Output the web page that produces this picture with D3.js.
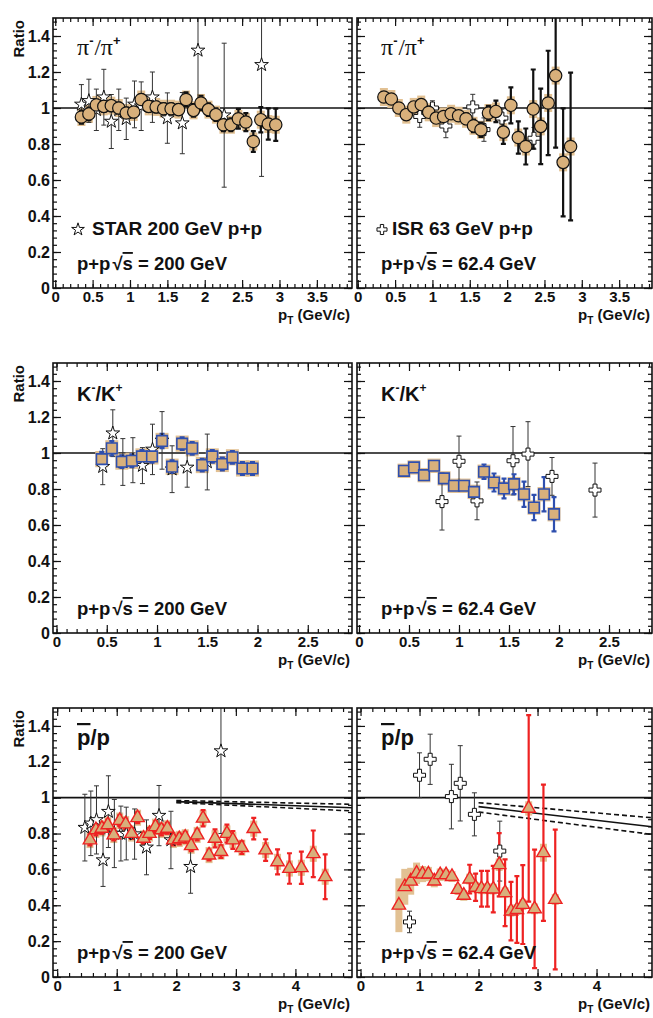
<!DOCTYPE html>
<html>
<head>
<meta charset="utf-8">
<script src="https://cdnjs.cloudflare.com/ajax/libs/d3/7.8.5/d3.min.js"></script>
<style>
  body { margin: 0; background: #fff; }
  svg { display: block; }
  text { font-family: "Liberation Sans", Arial, Helvetica, sans-serif; font-weight: bold; fill: #111; }
</style>
</head>
<body>
<svg id="chart" width="653" height="1018"></svg>
<script>
/* pi-/pi+ , p+p 200 GeV */
var pi200X = [0.35, 0.45, 0.55, 0.65, 0.75, 0.85, 0.95, 1.05, 1.15, 1.25, 1.35, 1.45, 1.55, 1.65, 1.75, 1.85, 1.95, 2.05, 2.15, 2.25, 2.35, 2.45, 2.55, 2.65, 2.75, 2.85, 2.95];
var pi200Y = [0.95, 0.967, 1.017, 1.009, 1.013, 1.0, 0.972, 0.978, 1.047, 1.009, 1.006, 0.996, 0.996, 0.991, 1.047, 0.987, 1.028, 0.991, 0.963, 0.907, 0.907, 0.94, 0.922, 0.814, 0.935, 0.911, 0.907];
var pi200Err = [0.035, 0.035, 0.03, 0.03, 0.03, 0.03, 0.03, 0.03, 0.03, 0.03, 0.03, 0.03, 0.03, 0.03, 0.04, 0.035, 0.04, 0.035, 0.035, 0.035, 0.035, 0.055, 0.05, 0.058, 0.07, 0.087, 0.09];
var pi200Sys = [0.05, 0.05, 0.05, 0.05, 0.05, 0.05, 0.05, 0.05, 0.05, 0.05, 0.05, 0.05, 0.05, 0.05, 0.05, 0.05, 0.05, 0.05, 0.05, 0.05, 0.05, 0.05, 0.05, 0.05, 0.05, 0.05, 0.05];

var starPiX = [0.35, 0.45, 0.55, 0.65, 0.75, 0.85, 0.95, 1.06, 1.15, 1.3, 1.5, 1.7, 1.91, 2.26, 2.76];
var starPiY = [1.02, 1.04, 0.99, 1.06, 0.925, 0.99, 0.94, 1.02, 1.01, 1.06, 0.944, 0.916, 1.32, 0.96, 1.24];
var starPiErr = [0.11, 0.12, 0.115, 0.155, 0.15, 0.115, 0.115, 0.13, 0.135, 0.14, 0.14, 0.17, 0.32, 0.4, 0.62];

/* pi-/pi+ , p+p 62.4 GeV */
var pi62X = [0.35, 0.45, 0.55, 0.65, 0.75, 0.85, 0.95, 1.05, 1.15, 1.25, 1.35, 1.45, 1.55, 1.65, 1.75, 1.85, 1.95, 2.05, 2.15, 2.25, 2.35, 2.45, 2.55, 2.65, 2.75, 2.85];
var pi62Y = [1.061, 1.05, 1.0, 0.963, 1.006, 1.019, 0.976, 0.944, 0.953, 0.968, 0.957, 0.94, 0.901, 0.879, 0.972, 0.981, 0.866, 1.015, 0.836, 0.786, 0.994, 0.898, 1.028, 1.18, 0.698, 0.786];
var pi62Err = [0.02, 0.02, 0.02, 0.02, 0.02, 0.02, 0.02, 0.02, 0.02, 0.025, 0.025, 0.03, 0.035, 0.04, 0.04, 0.06, 0.065, 0.1, 0.09, 0.1, 0.22, 0.21, 0.29, 0.4, 0.3, 0.41];
var pi62Sys = [0.05, 0.05, 0.05, 0.05, 0.05, 0.05, 0.05, 0.05, 0.05, 0.05, 0.05, 0.05, 0.05, 0.05, 0.05, 0.05, 0.05, 0.05, 0.05, 0.05, 0.05, 0.05, 0.05, 0.05, 0.05, 0.05];

var isrX = [0.83, 1.0, 1.18, 1.54, 1.69, 1.93, 2.36];
var isrPiY = [0.953, 1.0, 0.90, 1.006, 0.88, 0.944, 0.832];
var isrPiErr = [0.06, 0.04, 0.065, 0.07, 0.065, 0.05, 0.06];

/* K-/K+ */
var k200X = [0.45, 0.55, 0.65, 0.75, 0.85, 0.95, 1.05, 1.15, 1.25, 1.35, 1.45, 1.55, 1.65, 1.75, 1.85, 1.95];
var k200Y = [0.966, 1.026, 0.952, 0.957, 0.981, 0.981, 1.067, 0.924, 1.052, 1.026, 0.933, 0.981, 0.939, 0.976, 0.914, 0.914];
var k200Err = [0.04, 0.04, 0.035, 0.035, 0.035, 0.035, 0.04, 0.035, 0.035, 0.035, 0.035, 0.035, 0.035, 0.035, 0.035, 0.035];
var k200Sys = [0.045, 0.045, 0.045, 0.045, 0.045, 0.045, 0.045, 0.045, 0.045, 0.045, 0.045, 0.045, 0.045, 0.045, 0.045, 0.045];

var starKX = [0.46, 0.56, 0.66, 0.76, 0.855, 0.955, 1.05, 1.15, 1.3, 1.5];
var starKY = [0.924, 1.11, 0.95, 0.96, 0.93, 1.02, 1.07, 0.91, 0.92, 0.95];
var starKErr = [0.1, 0.13, 0.13, 0.125, 0.1, 0.14, 0.16, 0.13, 0.11, 0.155];

var k62X = [0.45, 0.55, 0.65, 0.75, 0.85, 0.95, 1.05, 1.15, 1.25, 1.35, 1.45, 1.55, 1.65, 1.75, 1.85, 1.95];
var k62Y = [0.901, 0.92, 0.877, 0.929, 0.859, 0.818, 0.818, 0.784, 0.896, 0.836, 0.803, 0.827, 0.771, 0.697, 0.771, 0.66];
var k62Err = [0.02, 0.02, 0.02, 0.02, 0.02, 0.02, 0.02, 0.025, 0.04, 0.05, 0.055, 0.055, 0.07, 0.07, 0.095, 0.095];
var k62Sys = [0.04, 0.04, 0.04, 0.04, 0.04, 0.04, 0.04, 0.04, 0.04, 0.04, 0.04, 0.04, 0.04, 0.04, 0.04, 0.04];

var isrKY = [0.73, 0.954, 0.734, 0.957, 0.994, 0.87, 0.794];
var isrKErr = [0.158, 0.14, 0.105, 0.19, 0.18, 0.105, 0.15];

/* pbar/p */
var pbar200X = [0.55, 0.65, 0.75, 0.85, 0.95, 1.05, 1.15, 1.25, 1.35, 1.45, 1.55, 1.65, 1.75, 1.85, 1.95, 2.05, 2.15, 2.25, 2.35, 2.45, 2.55, 2.65, 2.75, 2.85, 2.95, 3.1, 3.3, 3.5, 3.7, 3.9, 4.1, 4.3, 4.5];
var pbar200Y = [0.764, 0.82, 0.829, 0.848, 0.792, 0.872, 0.853, 0.80, 0.888, 0.773, 0.80, 0.838, 0.82, 0.829, 0.764, 0.77, 0.779, 0.732, 0.792, 0.885, 0.68, 0.773, 0.699, 0.80, 0.764, 0.721, 0.827, 0.708, 0.642, 0.605, 0.609, 0.687, 0.559];
var pbar200Err = [0.03, 0.03, 0.03, 0.03, 0.03, 0.03, 0.03, 0.03, 0.03, 0.03, 0.03, 0.03, 0.03, 0.03, 0.03, 0.03, 0.03, 0.03, 0.03, 0.045, 0.03, 0.05, 0.035, 0.05, 0.05, 0.035, 0.06, 0.06, 0.07, 0.085, 0.09, 0.13, 0.125];
var pbar200Sys = [0.045, 0.045, 0.045, 0.045, 0.045, 0.045, 0.045, 0.045, 0.045, 0.045, 0.045, 0.045, 0.045, 0.045, 0.045, 0.045, 0.045, 0.045, 0.045, 0.045, 0.045, 0.045, 0.045, 0.045, 0.045, 0.045, 0.045, 0.045, 0.045, 0.045, 0.045, 0.045, 0.045];

var starPbarX = [0.465, 0.565, 0.66, 0.77, 0.86, 0.96, 1.07, 1.16, 1.3, 1.5, 1.71, 1.91, 2.24, 2.75];
var starPbarY = [0.833, 0.857, 0.876, 0.652, 0.922, 0.80, 0.80, 0.80, 0.797, 0.723, 0.90, 0.764, 0.615, 1.26];
var starPbarErr = [0.186, 0.18, 0.19, 0.147, 0.2, 0.19, 0.153, 0.147, 0.14, 0.153, 0.168, 0.16, 0.148, 0.46];

var pbar62X = [0.65, 0.75, 0.85, 0.95, 1.05, 1.15, 1.25, 1.35, 1.45, 1.55, 1.65, 1.75, 1.85, 1.95, 2.05, 2.15, 2.25, 2.35, 2.45, 2.55, 2.65, 2.75, 2.85, 2.95, 3.1, 3.3];
var pbar62Y = [0.40, 0.503, 0.534, 0.578, 0.574, 0.574, 0.535, 0.57, 0.57, 0.56, 0.488, 0.455, 0.546, 0.5, 0.492, 0.492, 0.49, 0.626, 0.47, 0.367, 0.376, 0.404, 0.94, 0.38, 0.693, 0.432];
var pbar62Err = [0.01, 0.01, 0.01, 0.01, 0.01, 0.01, 0.01, 0.01, 0.015, 0.015, 0.02, 0.02, 0.08, 0.076, 0.1, 0.1, 0.13, 0.176, 0.186, 0.163, 0.186, 0.22, 0.52, 0.33, 0.38, 0.39];
var pbar62Sys = [0.15, 0.1, 0.075, 0.06, 0.045, 0.04, 0.035, 0.035, 0.03, 0.03, 0.03, 0.03, 0.03, 0.03, 0.03, 0.03, 0.03, 0.035, 0.03, 0.03, 0.03, 0.03, 0.04, 0.03, 0.05, 0.03];

var isrPbarY = [0.307, 1.125, 1.214, 1.006, 1.08, 0.907, 0.702];
var isrPbarErr = [0.06, 0.125, 0.14, 0.18, 0.21, 0.12, 0.167];

/* fit bands drawn in the pbar/p panels */
var fit200X = [2.0, 4.95];
var fit200Y = [0.978, 0.944];
var fit200Hi = [0.984, 0.963];
var fit200Lo = [0.972, 0.926];
var fit62X = [2.0, 4.94];
var fit62Y = [0.95, 0.838];
var fit62Hi = [0.972, 0.888];
var fit62Lo = [0.92, 0.795];

/* tick labels */
var yTicks = [0, 0.2, 0.4, 0.6, 0.8, 1, 1.2, 1.4];
var xTicksPi = [0, 0.5, 1, 1.5, 2, 2.5, 3, 3.5];
var xTicksK = [0, 0.5, 1, 1.5, 2, 2.5];
var xTicksPbar = [0, 1, 2, 3, 4];

var TAN = '#d8b07b', SYS = '#e2c193', BLUE = '#2f4fae', RED = '#ee2222', INK = '#111';

var cols = [[53, 352], [357, 652]];
var rows = [[18, 288], [363, 633], [708, 977]];

var panels = [
    { row: 0, col: 0, xd: [-0.03, 3.97], xt: xTicksPi, xm: 0.1, sp: 'pi', en: '200', legend: 'star', hw: 4,
      main: { x: pi200X, y: pi200Y, e: pi200Err, s: pi200Sys, m: 'circle' },
      ref: { x: starPiX, y: starPiY, e: starPiErr, m: 'star' } },
    { row: 0, col: 1, xd: [-0.01, 3.94], xt: xTicksPi, xm: 0.1, sp: 'pi', en: '62.4', legend: 'cross', hw: 4,
      main: { x: pi62X, y: pi62Y, e: pi62Err, s: pi62Sys, m: 'circle' },
      ref: { x: isrX, y: isrPiY, e: isrPiErr, m: 'cross' } },
    { row: 1, col: 0, xd: [-0.035, 2.94], xt: xTicksK, xm: 0.1, sp: 'K', en: '200', hw: 6.5,
      main: { x: k200X, y: k200Y, e: k200Err, s: k200Sys, m: 'square' },
      ref: { x: starKX, y: starKY, e: starKErr, m: 'star' } },
    { row: 1, col: 1, xd: [-0.02, 2.93], xt: xTicksK, xm: 0.1, sp: 'K', en: '62.4', hw: 6.5,
      main: { x: k62X, y: k62Y, e: k62Err, s: k62Sys, m: 'square' },
      ref: { x: isrX, y: isrKY, e: isrKErr, m: 'cross' } },
    { row: 2, col: 0, xd: [-0.07, 4.95], xt: xTicksPbar, xm: 0.2, sp: 'pbar', en: '200', hw: 3.5,
      main: { x: pbar200X, y: pbar200Y, e: pbar200Err, s: pbar200Sys, m: 'triangle' },
      ref: { x: starPbarX, y: starPbarY, e: starPbarErr, m: 'star' },
      fit: { x: fit200X, y: fit200Y, hi: fit200Hi, lo: fit200Lo } },
    { row: 2, col: 1, xd: [-0.06, 4.94], xt: xTicksPbar, xm: 0.2, sp: 'pbar', en: '62.4', hw: 3.5,
      main: { x: pbar62X, y: pbar62Y, e: pbar62Err, s: pbar62Sys, m: 'triangle' },
      ref: { x: isrX, y: isrPbarY, e: isrPbarErr, m: 'cross' },
      fit: { x: fit62X, y: fit62Y, hi: fit62Hi, lo: fit62Lo } }
];

var markerStyle = {
    circle: { fill: TAN, stroke: INK, sw: 1.2, ec: INK, ew: 2.2, sym: d3.symbol(d3.symbolCircle, 120) },
    square: { fill: TAN, stroke: BLUE, sw: 1.6, ec: BLUE, ew: 2.2, sym: d3.symbol(d3.symbolSquare, 112) },
    triangle: { fill: TAN, stroke: RED, sw: 1.4, ec: RED, ew: 2.2, sym: d3.symbol(d3.symbolTriangle, 78) },
    star: { fill: '#fff', stroke: INK, sw: 1, ec: '#333', ew: 1, sym: d3.symbol(d3.symbolStar, 58) },
    cross: { fill: '#fff', stroke: INK, sw: 1, ec: '#333', ew: 1, sym: d3.symbol(d3.symbolCross, 80) }
};

var svg = d3.select('#chart');
var fmt = function (d) { return String(+d.toFixed(2)); };

function errorBars(g, x, y, ser, st) {
    var pts = ser.x.map(function (d, i) { return { x: d, y: ser.y[i], e: ser.e[i] }; });
    var eb = g.append('g').attr('stroke', st.ec).attr('stroke-width', st.ew).attr('fill', 'none');
    eb.selectAll('path').data(pts).enter().append('path')
        .attr('d', function (d) {
            var px = x(d.x), a = y(d.y + d.e), b = y(d.y - d.e);
            return 'M' + px + ',' + a + 'V' + b +
                'M' + (px - 2.5) + ',' + a + 'H' + (px + 2.5) +
                'M' + (px - 2.5) + ',' + b + 'H' + (px + 2.5);
        });
}

function markers(g, x, y, ser, st) {
    g.append('g').selectAll('path').data(ser.x).enter().append('path')
        .attr('d', st.sym())
        .attr('transform', function (d, i) { return 'translate(' + x(d) + ',' + y(ser.y[i]) + ')'; })
        .attr('fill', st.fill).attr('stroke', st.stroke).attr('stroke-width', st.sw);
}

function energyText(g, px, py, en) {
    var t = g.append('text').attr('x', px).attr('y', py).attr('font-size', 18.5);
    t.append('tspan').text('p+p');
    t.append('tspan').text('\u221A').attr('dx', 2);
    t.append('tspan').text('s').style('text-decoration', 'overline');
    t.append('tspan').text(' = ' + en + ' GeV');
}

function speciesText(g, px, py, sp) {
    var t = g.append('text').attr('x', px).attr('y', py);
    if (sp == 'pi') {
        var serif = '"Liberation Serif", "Times New Roman", serif';
        t.append('tspan').text('\u03C0').attr('font-size', 24).style('font-family', serif).style('font-weight', 'normal');
        t.append('tspan').text('-').attr('font-size', 13).attr('dy', -10);
        t.append('tspan').text('/').attr('font-size', 23).attr('dy', 10).attr('dx', 1).style('font-family', serif).style('font-weight', 'normal');
        t.append('tspan').text('\u03C0').attr('font-size', 24).style('font-family', serif).style('font-weight', 'normal');
        t.append('tspan').text('+').attr('font-size', 13).attr('dy', -10);
    } else if (sp == 'K') {
        t.attr('font-size', 20);
        t.append('tspan').text('K');
        t.append('tspan').text('-').attr('font-size', 12).attr('dy', -9);
        t.append('tspan').text('/').attr('dy', 9);
        t.append('tspan').text('K');
        t.append('tspan').text('+').attr('font-size', 12).attr('dy', -9);
    } else {
        t.attr('font-size', 22);
        t.append('tspan').text('p').style('text-decoration', 'overline');
        t.append('tspan').text('/p');
    }
}

panels.forEach(function (p, k) {
    var x0 = cols[p.col][0], x1 = cols[p.col][1];
    var y0 = rows[p.row][0], y1 = rows[p.row][1];
    var x = d3.scaleLinear().domain(p.xd).range([x0, x1]);
    var y = d3.scaleLinear().domain([0, 1.5]).range([y1, y0]);
    var g = svg.append('g');

    svg.append('clipPath').attr('id', 'clip' + k)
        .append('rect').attr('x', x0).attr('y', y0).attr('width', x1 - x0).attr('height', y1 - y0);
    var plot = g.append('g').attr('clip-path', 'url(#clip' + k + ')');

    // unity line
    plot.append('line').attr('x1', x0).attr('x2', x1).attr('y1', y(1)).attr('y2', y(1))
        .attr('stroke', INK).attr('stroke-width', 1.6);

    if (p.fit) {
        var line = d3.line().x(function (d) { return x(d[0]); }).y(function (d) { return y(d[1]); });
        plot.append('path').attr('d', line(d3.zip(p.fit.x, p.fit.y)))
            .attr('stroke', INK).attr('stroke-width', 1.6).attr('fill', 'none');
        [p.fit.hi, p.fit.lo].forEach(function (b) {
            plot.append('path').attr('d', line(d3.zip(p.fit.x, b)))
                .attr('stroke', INK).attr('stroke-width', 1.6).attr('fill', 'none')
                .attr('stroke-dasharray', '5,3');
        });
    }

    // systematic boxes
    plot.append('g').selectAll('rect').data(p.main.x).enter().append('rect')
        .attr('x', function (d) { return x(d) - p.hw; })
        .attr('width', 2 * p.hw)
        .attr('y', function (d, i) { return y(p.main.y[i] + p.main.s[i]); })
        .attr('height', function (d, i) { return y(p.main.y[i] - p.main.s[i]) - y(p.main.y[i] + p.main.s[i]); })
        .attr('fill', SYS);

    var rs = markerStyle[p.ref.m], ms = markerStyle[p.main.m];
    errorBars(plot, x, y, p.ref, rs);
    errorBars(plot, x, y, p.main, ms);
    markers(plot, x, y, p.ref, rs);
    markers(plot, x, y, p.main, ms);

    // frame and axes
    g.append('rect').attr('x', x0).attr('y', y0).attr('width', x1 - x0).attr('height', y1 - y0)
        .attr('fill', 'none').attr('stroke', INK).attr('stroke-width', 1.6);

    var minorX = d3.range(0, p.xd[1], p.xm);
    var minorY = d3.range(0, 1.5, 0.04);

    function styleAxis(a, size) {
        a.select('.domain').remove();
        a.selectAll('line').attr('stroke', INK).attr('stroke-width', 1.2);
        a.attr('font-size', size).attr('font-family', null);
    }

    g.append('g').attr('transform', 'translate(0,' + y1 + ')')
        .call(d3.axisBottom(x).tickValues(p.xt).tickSize(-8).tickPadding(3.5).tickFormat(fmt))
        .call(styleAxis, 15);
    g.append('g').attr('transform', 'translate(0,' + y1 + ')')
        .call(d3.axisBottom(x).tickValues(minorX).tickSize(-4).tickFormat(''))
        .call(styleAxis, 15);
    g.append('g').attr('transform', 'translate(0,' + y0 + ')')
        .call(d3.axisTop(x).tickValues(p.xt).tickSize(-8).tickFormat(''))
        .call(styleAxis, 15);
    g.append('g').attr('transform', 'translate(0,' + y0 + ')')
        .call(d3.axisTop(x).tickValues(minorX).tickSize(-4).tickFormat(''))
        .call(styleAxis, 15);

    g.append('g').attr('transform', 'translate(' + x0 + ',0)')
        .call(d3.axisLeft(y).tickValues(yTicks).tickSize(-8).tickPadding(3).tickFormat(p.col == 0 ? fmt : ''))
        .call(styleAxis, 16);
    g.append('g').attr('transform', 'translate(' + x0 + ',0)')
        .call(d3.axisLeft(y).tickValues(minorY).tickSize(-4).tickFormat(''))
        .call(styleAxis, 16);
    g.append('g').attr('transform', 'translate(' + x1 + ',0)')
        .call(d3.axisRight(y).tickValues(yTicks).tickSize(-8).tickFormat(''))
        .call(styleAxis, 16);
    g.append('g').attr('transform', 'translate(' + x1 + ',0)')
        .call(d3.axisRight(y).tickValues(minorY).tickSize(-4).tickFormat(''))
        .call(styleAxis, 16);

    // axis titles
    var xt = g.append('text').attr('x', x1 - 2).attr('y', y1 + 32)
        .attr('text-anchor', 'end').attr('font-size', 15);
    xt.append('tspan').text('p');
    xt.append('tspan').text('T').attr('font-size', 10).attr('dy', 4);
    xt.append('tspan').text(' (GeV/c)').attr('dy', -4);

    if (p.col == 0) {
        g.append('text').attr('transform', 'translate(24,' + (y0 + 2) + ') rotate(-90)')
            .attr('text-anchor', 'end').attr('font-size', 15).text('Ratio');
    }

    // labels
    var lx = x0 + 24;
    speciesText(g, lx, y0 + (p.sp == 'K' ? 38 : 37), p.sp);
    energyText(g, lx, y1 - 18, p.en);

    if (p.legend) {
        var ls = markerStyle[p.legend];
        g.append('path').attr('d', p.legend == 'star' ? d3.symbol(d3.symbolStar, 50)() : d3.symbol(d3.symbolCross, 56)())
            .attr('transform', 'translate(' + (lx + 1) + ',' + (y1 - 58.5) + ')')
            .attr('fill', ls.fill).attr('stroke', ls.stroke).attr('stroke-width', ls.sw);
        g.append('text').attr('x', lx + (p.legend == 'star' ? 15 : 11)).attr('y', y1 - 53)
            .attr('font-size', 19)
            .text(p.legend == 'star' ? 'STAR 200 GeV p+p' : 'ISR 63 GeV p+p');
    }
});
</script>
</body>
</html>
